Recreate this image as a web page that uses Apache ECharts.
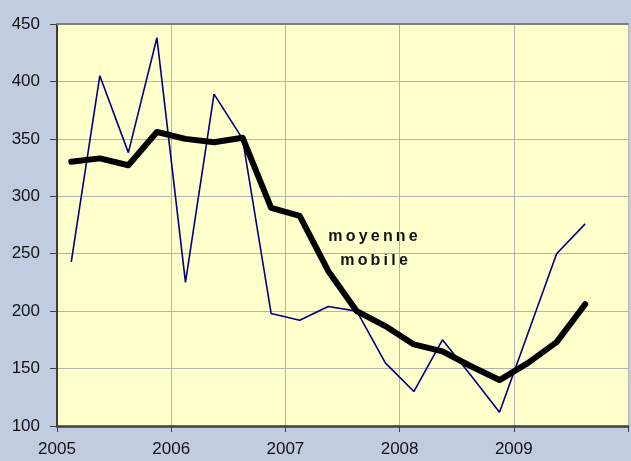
<!DOCTYPE html>
<html>
<head>
<meta charset="utf-8">
<script src="https://cdn.jsdelivr.net/npm/echarts@6/dist/echarts.min.js"></script>
<style>
html,body{margin:0;padding:0;background:#c2cce0;}
#c{width:631px;height:461px;}
</style>
</head>
<body>
<div id="c"></div>
<script>
// Quarterly periods (year, quarter)
var years    = [2005,2005,2005,2005,2006,2006,2006,2006,2007,2007,2007,2007,2008,2008,2008,2008,2009,2009,2009];
var quarters = [1,2,3,4,1,2,3,4,1,2,3,4,1,2,3,4,1,2,3];
// Raw series (thin blue)
var rawValues = [243,405,338,438,225,389,350,198,192,204,200,155,130,175,144,112,181,250,276];
// Moving average (thick black)
var movingAvg = [330,333,327,356,350,347,351,290,283,235,200,187,171,165,152,140,155,173,206];
// Axis ticks
var yTicks = [100,150,200,250,300,350,400,450];
var xYears = [2005,2006,2007,2008,2009];
var annotation = ['moyenne','mobile'];

function pos(i){ return years[i] + (quarters[i]-0.5)/4; }
var rawData = rawValues.map(function(v,i){ return [pos(i), v]; });
var avgData = movingAvg.map(function(v,i){ return [pos(i), v]; });

var chart = echarts.init(document.getElementById('c'), null, {renderer:'canvas'});
var font = 'Arial, "Liberation Sans", sans-serif';
chart.setOption({
  backgroundColor:'#c2cce0',
  animation:false,
  grid:{left:57, top:24, right:0, bottom:35, show:true, backgroundColor:'#ffffcc', borderWidth:0},
  xAxis:[{
    type:'value', min:xYears[0], max:xYears[xYears.length-1]+1, interval:1,
    axisLine:{show:true, onZero:false, lineStyle:{color:'#404040', width:2.5}},
    axisTick:{show:true, length:6, lineStyle:{color:'#404040', width:1}},
    axisLabel:{margin:15, fontFamily:font, fontSize:17, color:'#111',
      formatter:function(v){ return xYears.indexOf(v)>=0 ? String(v) : ''; }},
    splitLine:{show:true, lineStyle:{color:'#b3b3b3', width:1}}
  },{
    type:'value', position:'top', min:xYears[0], max:xYears[xYears.length-1]+1,
    axisLine:{show:true, onZero:false, lineStyle:{color:'#808080', width:2}},
    axisTick:{show:false}, axisLabel:{show:false}, splitLine:{show:false}
  }],
  yAxis:{
    type:'value', min:yTicks[0], max:yTicks[yTicks.length-1], interval:50,
    axisLine:{show:true, onZero:false, lineStyle:{color:'#111', width:1.5}},
    axisTick:{show:true, length:7, lineStyle:{color:'#404040', width:1}},
    axisLabel:{margin:17, fontFamily:font, fontSize:17, color:'#111'},
    splitLine:{show:true, lineStyle:{color:'#b3b3b3', width:1}}
  },
  series:[{
    type:'line', data:rawData, showSymbol:false, symbol:'none',
    lineStyle:{color:'#000080', width:1.6}, z:2
  },{
    type:'line', data:avgData, showSymbol:false, symbol:'none',
    lineStyle:{color:'#000', width:6, join:'round', cap:'round'}, z:3
  }],
  graphic:[{
    type:'text', x:373, y:237,
    style:{text:annotation[0].split('').join('\u2009'), font:'bold 16px '+font, fill:'#111',
      align:'center', verticalAlign:'middle'}
  },{
    type:'text', x:374, y:261,
    style:{text:annotation[1].split('').join('\u2009'), font:'bold 16px '+font, fill:'#111',
      align:'center', verticalAlign:'middle'}
  }]
});
</script>
</body>
</html>
